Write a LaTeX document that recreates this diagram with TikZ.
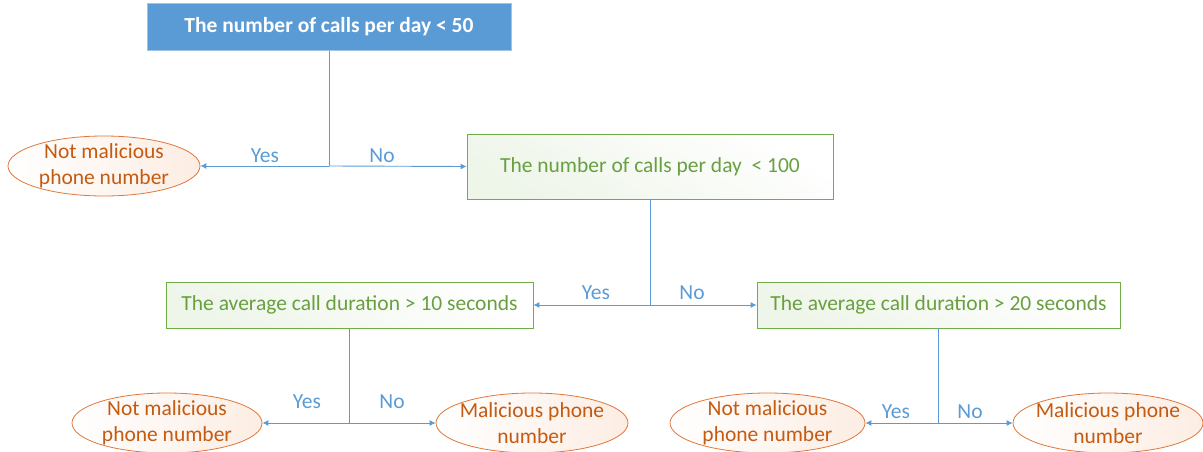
\documentclass[tikz,border=0pt]{standalone}
\usepackage{fontspec}
\setmainfont{Carlito}
\usetikzlibrary{shapes.geometric,arrows.meta}
\definecolor{lblue}{HTML}{5B9BD5}
\definecolor{bblue}{HTML}{5B9BD5}
\definecolor{gtxt}{HTML}{68A040}
\definecolor{gline}{HTML}{70AD47}
\definecolor{gfill}{HTML}{EEF5E9}
\definecolor{otxt}{HTML}{C55A11}
\definecolor{oline}{HTML}{E0773A}
\definecolor{ofill}{HTML}{FCEDE3}
\tikzset{
  topbox/.style={draw=bblue!60!white, fill=bblue, text=white, font=\fontsize{21.5}{25}\selectfont\bfseries, minimum width=364pt, minimum height=47pt, inner sep=0pt, line width=0.8pt},
  gbox/.style={draw=gline, line width=0.8pt, top color=white, bottom color=gfill, shading angle=-30, text=gtxt, font=\fontsize{21.5}{25}\selectfont, inner sep=0pt, minimum height=46pt},
  oval/.style={ellipse, draw=oline, line width=0.8pt, left color=white, right color=ofill, text=otxt, font=\fontsize{21.5}{25.5}\selectfont, align=center, inner xsep=-30pt, inner ysep=-15pt, minimum width=192pt, minimum height=60pt},
  conn/.style={draw=lblue, line width=0.9pt},
  arr/.style={conn, -{Latex[length=6pt,width=6pt]}},
  lab/.style={text=lblue, font=\fontsize{21.5}{25}\selectfont, inner sep=0pt},
}
\begin{document}
\begin{tikzpicture}[x=1pt,y=-1pt]
\useasboundingbox (0,0) rectangle (1203,452);
\node[topbox] (top) at (329,27) {The number of calls per day < 50};
\node[oval] (e1) at (104,166) {Not malicious\\phone number};
\node[gbox, minimum width=366pt, minimum height=65pt] (b2) at (650,166.5) {The number of calls per day\ \ < 100};
\node[gbox, minimum width=367pt] (b3) at (349.5,305) {The average call duration > 10 seconds};
\node[gbox, minimum width=363pt] (b4) at (938.5,305) {The average call duration > 20 seconds};
\node[oval, minimum width=190pt] (e2) at (167,423) {Not malicious\\phone number};
\node[oval] (e3) at (532,423) {Malicious phone\\number};
\node[oval, minimum width=195pt] (e4) at (767.5,423) {Not malicious\\phone number};
\node[oval, minimum width=190pt] (e5) at (1108,423) {Malicious phone\\number};
\coordinate (j1) at (329,166);
\coordinate (j2) at (650,305);
\coordinate (j3) at (349,423);
\coordinate (j4) at (938,423);
\draw[conn] (top.south) -- (j1);
\draw[arr] (j1) -- (e1.east);
\draw[arr] (j1) -- (b2.west);
\draw[conn] (b2.south) -- (j2);
\draw[arr] (j2) -- (b3.east);
\draw[arr] (j2) -- (b4.west);
\draw[conn] (b3.south -| j3) -- (j3);
\draw[arr] (j3) -- (e2.east);
\draw[arr] (j3) -- (e3.west);
\draw[conn] (b4.south -| j4) -- (j4);
\draw[arr] (j4) -- (e4.east);
\draw[arr] (j4) -- (e5.west);
\node[lab] (y1) at (265,156) {Yes};
\node[lab] (n1) at (382,156) {No};
\node[lab] (y2) at (596,293) {Yes};
\node[lab] (n2) at (692,293) {No};
\node[lab] (y3) at (307,402) {Yes};
\node[lab] (n3) at (392,402) {No};
\node[lab] (y4) at (896,412) {Yes};
\node[lab] (n4) at (970,412) {No};
\end{tikzpicture}
\end{document}
